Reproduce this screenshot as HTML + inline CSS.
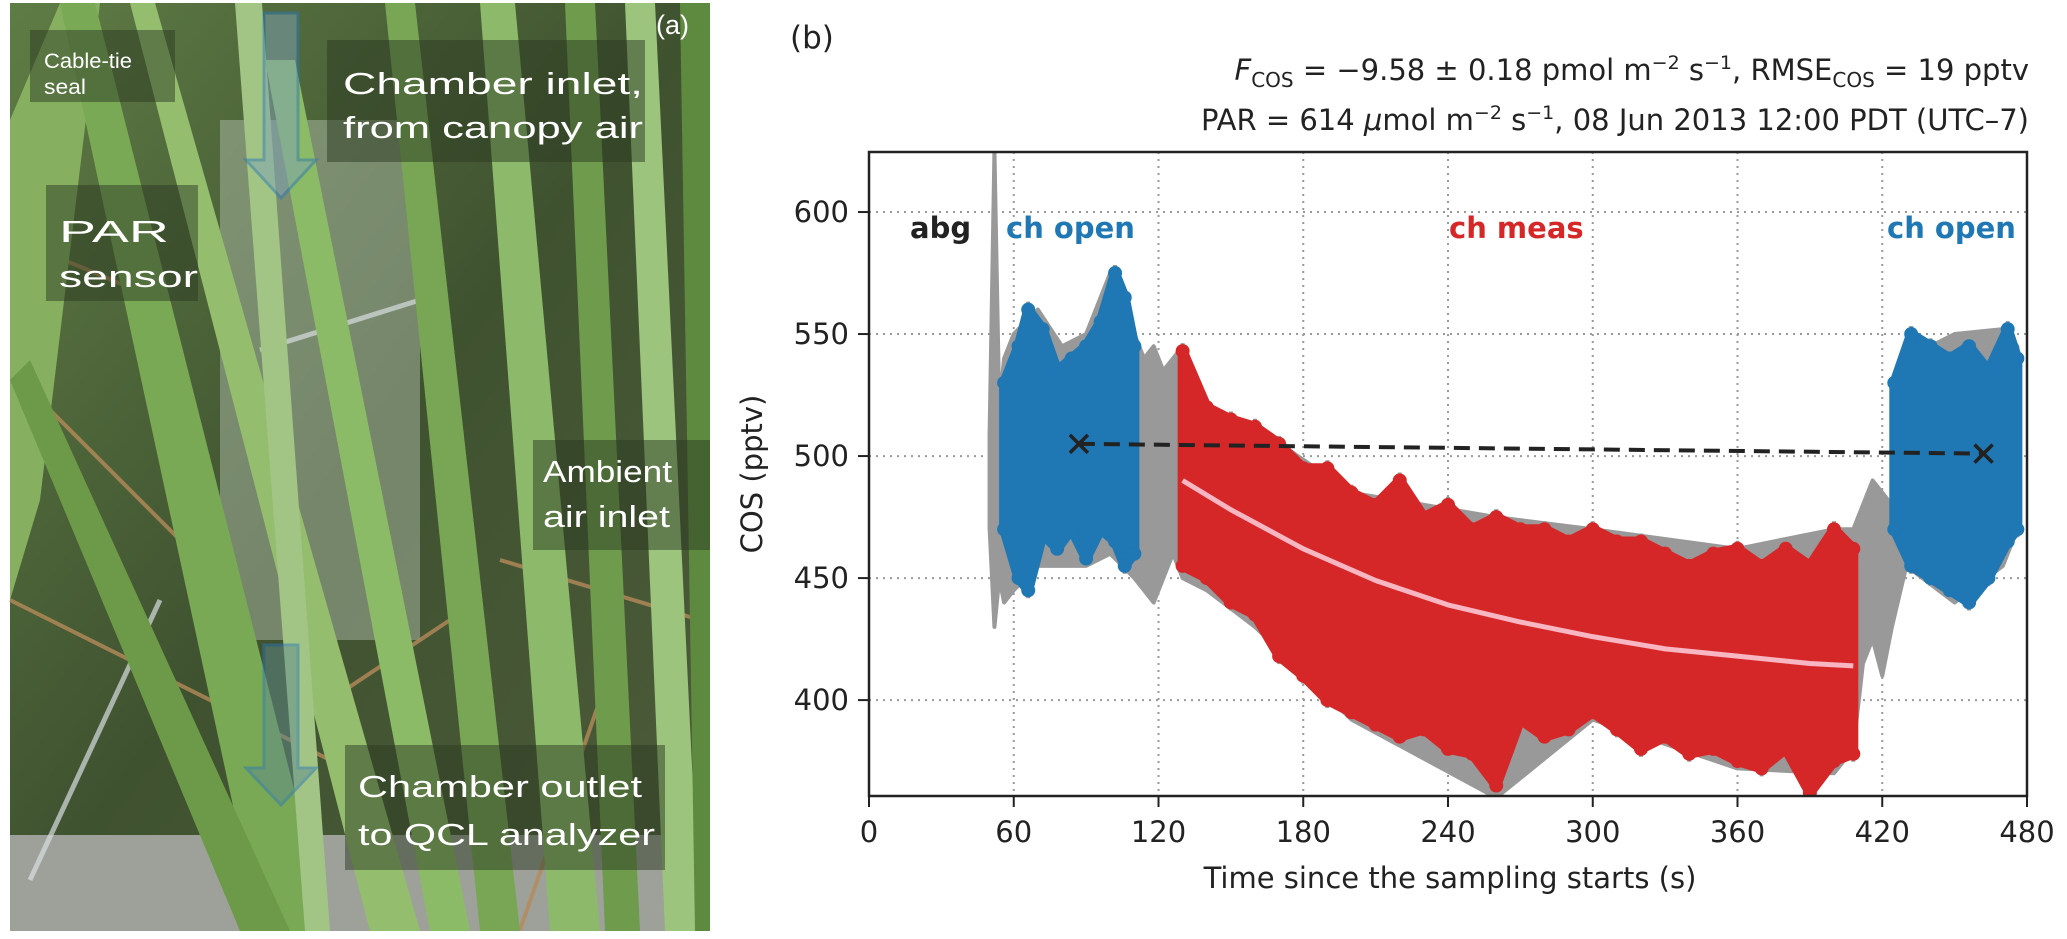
<!DOCTYPE html>
<html><head><meta charset="utf-8">
<style>
html,body{margin:0;padding:0;background:#fff;}
#root{position:relative;width:2067px;height:939px;overflow:hidden;background:#fff;}
svg text{font-family:"DejaVu Sans","Liberation Sans",sans-serif;}
.ph text{font-family:"Liberation Sans",sans-serif;fill:#fff;}
</style></head>
<body>
<div id="root">
<svg class="ph" width="2067" height="939" style="position:absolute;left:0;top:0">
  <defs>
    <linearGradient id="bg" x1="0" y1="0" x2="1" y2="1">
      <stop offset="0" stop-color="#5f7c45"/><stop offset="0.5" stop-color="#3f5230"/><stop offset="1" stop-color="#4e5c3a"/>
    </linearGradient>
  </defs>
  <g>
    <rect x="10" y="3" width="700" height="928" fill="url(#bg)"/>
    <rect x="220" y="120" width="200" height="520" fill="#b9c5b4" opacity="0.45"/>
    <rect x="10" y="835" width="700" height="96" fill="#9ea19a"/>
    <g stroke="#b58a5a" stroke-width="4" opacity="0.8">
      <line x1="10" y1="600" x2="330" y2="760"/><line x1="20" y1="380" x2="200" y2="560"/>
      <line x1="500" y1="560" x2="700" y2="620"/><line x1="600" y1="700" x2="520" y2="930"/>
      <line x1="40" y1="250" x2="160" y2="300"/><line x1="330" y1="700" x2="450" y2="620"/>
    </g>
    <g stroke="#d8dde0" stroke-width="5" opacity="0.7">
      <line x1="30" y1="880" x2="160" y2="600"/><line x1="260" y1="350" x2="420" y2="300"/>
    </g>
    <polygon points="10,120 60,3 100,3 40,500 10,600" fill="#86b060"/>
    <polygon points="60,3 95,3 330,931 260,931" fill="#7aa956"/>
    <polygon points="130,3 155,3 420,931 370,931" fill="#94be6e"/>
    <polygon points="10,380 30,360 290,931 240,931" fill="#6c9a48"/>
    <polygon points="235,3 262,3 330,931 305,931" fill="#a2c585"/>
    <polygon points="265,60 295,60 470,931 430,931" fill="#8cbb67"/>
    <polygon points="385,3 415,3 520,931 480,931" fill="#78a655"/>
    <polygon points="480,3 515,3 600,931 550,931" fill="#8dba6a"/>
    <polygon points="565,3 595,3 640,931 605,931" fill="#6e9c4c"/>
    <polygon points="625,3 655,3 700,931 665,931" fill="#9cc47d"/>
    <polygon points="680,3 710,3 710,931 695,931" fill="#5e8a40"/>
  </g>
  <g fill="#2c3a22" opacity="0.5">
    <rect x="30" y="30" width="145" height="72"/>
    <rect x="327" y="40" width="318" height="122"/>
    <rect x="46" y="185" width="152" height="116"/>
    <rect x="533" y="440" width="177" height="110"/>
    <rect x="345" y="745" width="320" height="125"/>
  </g>
  <g>
    <polygon points="264,13 298,13 298,160 316,160 281,198 246,160 264,160" fill="#7fa3b8" opacity="0.5" stroke="#2b78b8" stroke-width="3"/>
  </g>
  <g>
    <polygon points="264,645 298,645 298,768 316,768 281,805 246,768 264,768" fill="#5f8a8a" opacity="0.5" stroke="#2b78b8" stroke-width="3"/>
  </g>
  <text x="656" y="34" font-size="27">(a)</text>
  <text font-size="21"><tspan x="44" y="68" textLength="88" lengthAdjust="spacingAndGlyphs">Cable-tie</tspan><tspan x="44" y="94" textLength="42" lengthAdjust="spacingAndGlyphs">seal</tspan></text>
  <text font-size="31"><tspan x="343" y="94" textLength="300" lengthAdjust="spacingAndGlyphs">Chamber inlet,</tspan><tspan x="343" y="138" textLength="300" lengthAdjust="spacingAndGlyphs">from canopy air</tspan></text>
  <text font-size="31"><tspan x="59" y="242" textLength="110" lengthAdjust="spacingAndGlyphs">PAR</tspan><tspan x="59" y="287" textLength="139" lengthAdjust="spacingAndGlyphs">sensor</tspan></text>
  <text font-size="31"><tspan x="543" y="482" textLength="129" lengthAdjust="spacingAndGlyphs">Ambient</tspan><tspan x="543" y="527" textLength="127" lengthAdjust="spacingAndGlyphs">air inlet</tspan></text>
  <text font-size="31"><tspan x="358" y="797" textLength="284" lengthAdjust="spacingAndGlyphs">Chamber outlet</tspan><tspan x="358" y="845" textLength="297" lengthAdjust="spacingAndGlyphs">to QCL analyzer</tspan></text>
</svg>

<svg id="chart" width="2067" height="939" style="position:absolute;left:0;top:0">
  <text x="790" y="48" font-size="31" fill="#222">(b)</text>
  <text x="2029" y="80" font-size="29" fill="#222" text-anchor="end"><tspan font-style="italic">F</tspan><tspan font-size="20" dy="7">COS</tspan><tspan dy="-7"> = −9.58 ± 0.18 pmol m</tspan><tspan font-size="19" dy="-11">−2</tspan><tspan dy="11"> s</tspan><tspan font-size="19" dy="-11">−1</tspan><tspan dy="11">,  RMSE</tspan><tspan font-size="20" dy="7">COS</tspan><tspan dy="-7"> = 19 pptv</tspan></text>
  <text x="2029" y="130" font-size="29" fill="#222" text-anchor="end">PAR = 614 <tspan font-style="italic">μ</tspan>mol m<tspan font-size="19" dy="-11">−2</tspan><tspan dy="11"> s</tspan><tspan font-size="19" dy="-11">−1</tspan><tspan dy="11">,  08 Jun 2013 12:00 PDT (UTC–7)</tspan></text>
  <g id="grid"></g>
  <g id="marks"></g>
  <g id="axes"></g>
  <text x="1450" y="888" font-size="29" fill="#222" text-anchor="middle">Time since the sampling starts (s)</text>
  <text transform="translate(762,474) rotate(-90)" font-size="29" fill="#222" text-anchor="middle">COS (pptv)</text>
  <text x="910" y="238" font-size="29" font-weight="bold" fill="#222">abg</text>
  <text x="1006" y="238" font-size="29" font-weight="bold" fill="#1f77b4">ch open</text>
  <text x="1449" y="238" font-size="29" font-weight="bold" fill="#d62728">ch meas</text>
  <text x="1887" y="238" font-size="29" font-weight="bold" fill="#1f77b4">ch open</text>
</svg>
</div>
<script>
const xTicks = [0,60,120,180,240,300,360,420,480];
const yTicks = [400,450,500,550,600];
const greyT  = [50,52,54,56,60,70,80,90,100,110,114,118,122,126,130,140,160,200,260,300,360,400,408,412,416,420,424,430,450,470,476];
const greyHi = [510,625,520,540,550,560,545,550,575,550,540,545,535,540,545,520,512,485,475,470,462,470,470,480,490,485,480,540,550,552,545];
const greyLo = [470,430,450,440,445,455,455,455,460,450,445,440,450,460,450,445,430,392,360,392,372,370,380,415,425,410,430,455,440,455,470];
const blue1T  = [56,62,66,72,78,84,90,96,102,106,110];
const blue1Hi = [530,545,560,552,535,540,545,555,575,565,545];
const blue1Lo = [470,450,445,468,462,470,458,470,465,455,460];
const redT  = [130,140,150,160,170,180,190,200,210,220,230,240,250,260,270,280,290,300,310,320,330,340,350,360,370,380,390,400,408];
const redHi = [543,520,515,512,505,495,495,485,480,490,475,480,470,475,470,470,465,470,465,465,460,455,460,462,455,462,455,470,462];
const redLo = [455,450,440,435,418,410,400,395,390,385,388,380,378,365,392,385,388,395,388,380,385,378,380,375,372,380,362,375,378];
const blue2T  = [425,432,440,448,456,464,472,476];
const blue2Hi = [530,550,545,540,545,535,552,540];
const blue2Lo = [470,455,450,445,440,450,465,470];
const fitT = [130,150,180,210,240,270,300,330,360,390,408];
const fitV = [490,478,462,449,439,432,426,421,418,415,414];
const refT = [87,462];
const refV = [505,501];

const NS='http://www.w3.org/2000/svg';
const X0=869,X1=2027,Y0=796,Y1=152,XMIN=0,XMAX=480,YMIN=360.7,YMAX=624.6;
function X(t){return X0+(t-XMIN)/(XMAX-XMIN)*(X1-X0);}
function Y(v){return Y0-(v-YMIN)/(YMAX-YMIN)*(Y0-Y1);}
function mk(tag,attrs,parent){const e=document.createElementNS(NS,tag);for(const k in attrs)e.setAttribute(k,attrs[k]);parent.appendChild(e);return e;}
const grid=document.getElementById('grid'),marks=document.getElementById('marks'),axes=document.getElementById('axes');

xTicks.forEach(t=>{
  if(t>XMIN&&t<XMAX){const g=mk('line',{x1:X(t),x2:X(t),y1:Y1,y2:Y0,stroke:'#999','stroke-width':2,'stroke-dasharray':'2,5'},grid);
  
  }
  const tk=mk('line',{x1:X(t),x2:X(t),y1:Y0,y2:Y0+11,stroke:'#222','stroke-width':2},axes);
  
  
  const lb=mk('text',{x:X(t),y:Y0+46,'font-size':29,fill:'#222','text-anchor':'middle'},axes);lb.textContent=t;
  
  
});
yTicks.forEach(v=>{
  const g=mk('line',{x1:X0,x2:X1,y1:Y(v),y2:Y(v),stroke:'#999','stroke-width':2,'stroke-dasharray':'2,5'},grid);
  
  
  const tk=mk('line',{x1:X0-11,x2:X0,y1:Y(v),y2:Y(v),stroke:'#222','stroke-width':2},axes);
  
  
  const lb=mk('text',{x:X0-20,y:Y(v)+10,'font-size':29,fill:'#222','text-anchor':'end'},axes);lb.textContent=v;
  
  
});
const frame=mk('rect',{x:X0,y:Y1,width:X1-X0,height:Y0-Y1,fill:'none',stroke:'#222','stroke-width':2.5},axes);



const clip=mk('clipPath',{id:'pc'},marks);mk('rect',{x:X0,y:Y1,width:X1-X0,height:Y0-Y1},clip);
const area=mk('g',{'clip-path':'url(#pc)'},marks);

function band(T,H,L,color,name,r){
  const g=mk('g',{},area);
  
  
  T.forEach((t,i)=>{
    const s=mk('line',{x1:X(t),x2:X(t),y1:Y(H[i])-(r?8:0),y2:Y(L[i])+(r?8:0),stroke:'#999','stroke-width':4},g);
    
    
  });
  let d='M'+T.map((t,i)=>X(t)+','+Y(H[i])).join('L')+'L'+T.map((t,i)=>X(t)+','+Y(L[i])).reverse().join('L')+'Z';
  const p=mk('path',{d:d,fill:color,stroke:color,'stroke-width':r?10:4,'stroke-linejoin':'round'},g);
  
  
  if(r){T.forEach((t,i)=>{[H[i],L[i]].forEach(v=>{
      const c=mk('circle',{cx:X(t),cy:Y(v),r:r,fill:color},g);
      
      
  });});}
  return g;
}
band(greyT,greyHi,greyLo,'#999999','grey-raw-series',0);
band(blue1T,blue1Hi,blue1Lo,'#1f77b4','blue-open-series-1',7);
band(redT,redHi,redLo,'#d62728','red-meas-series',7);
band(blue2T,blue2Hi,blue2Lo,'#1f77b4','blue-open-series-2',7);

const fit=mk('polyline',{points:fitT.map((t,i)=>X(t)+','+Y(fitV[i])).join(' '),fill:'none',stroke:'#f7b6c2','stroke-width':5,'stroke-linejoin':'round'},area);


const ref=mk('line',{x1:X(refT[0]),y1:Y(refV[0]),x2:X(refT[1]),y2:Y(refV[1]),stroke:'#222','stroke-width':4,'stroke-dasharray':'16,9'},area);


refT.forEach((t,i)=>{
  const x=X(t),y=Y(refV[i]);
  const m=mk('path',{d:`M${x-9},${y-9}L${x+9},${y+9}M${x-9},${y+9}L${x+9},${y-9}`,stroke:'#222','stroke-width':3.5},area);
  
  
});
</script>
</body></html>
